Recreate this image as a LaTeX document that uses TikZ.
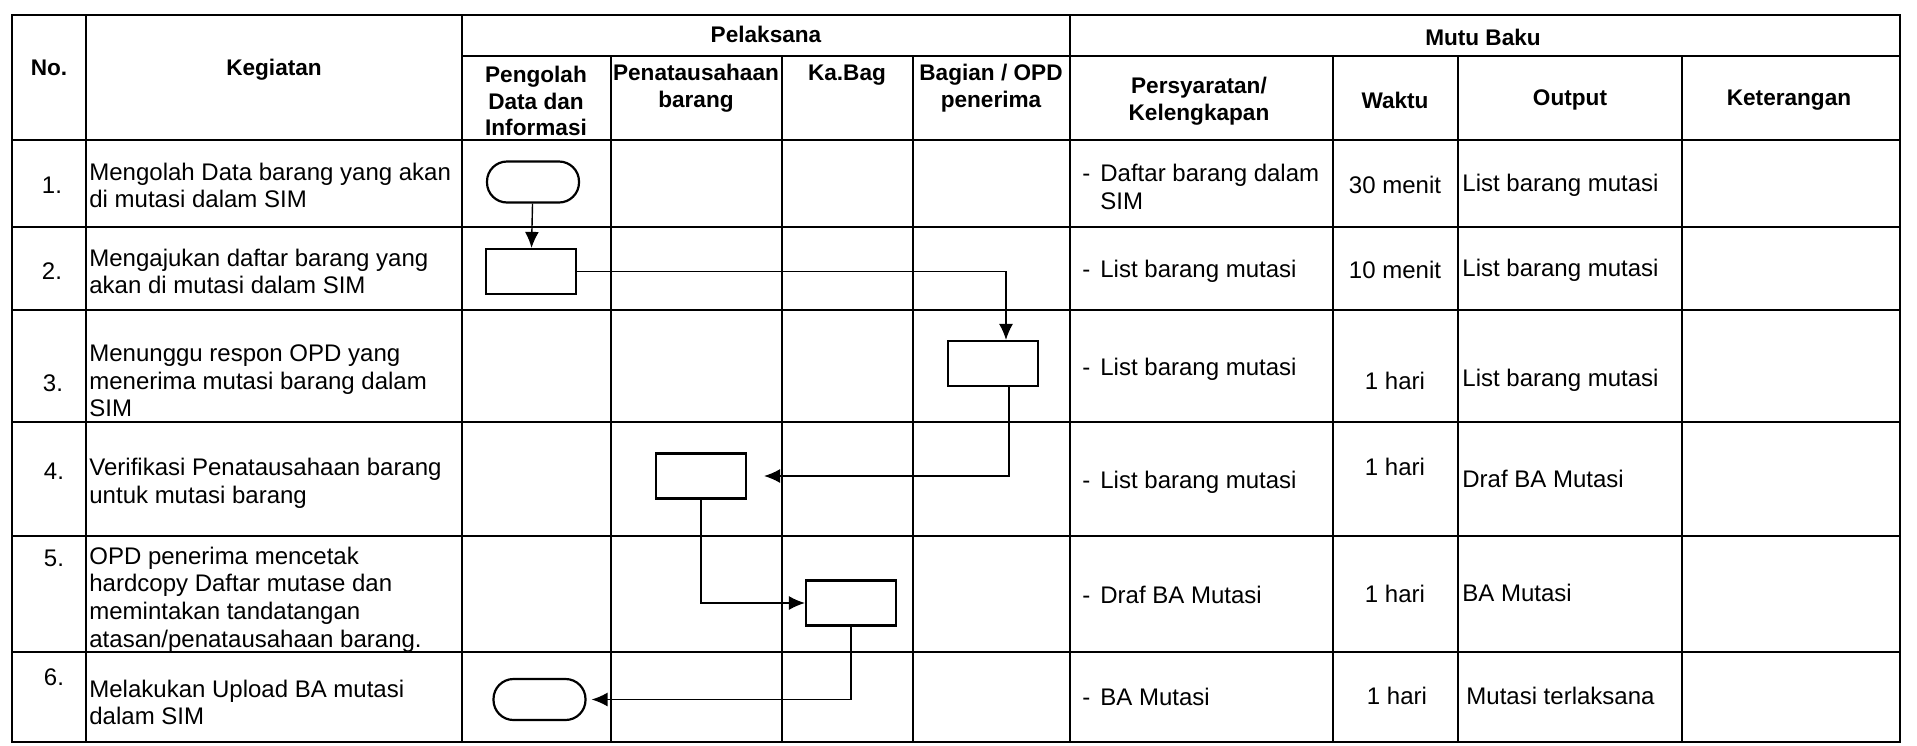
\documentclass[tikz,border=0pt]{standalone}
\usepackage{fontspec}
\setmainfont{Liberation Sans}
\usetikzlibrary{arrows.meta,positioning,calc}

\newcommand{\butir}{\llap{-\hspace{5pt}}}

\tikzset{
	tablerule/.style={line width=1.1pt, line cap=rect},
	isi/.style={font=\fontsize{12}{13.85}\selectfont, inner sep=0pt, align=left},
	judul/.style={font=\bfseries\fontsize{11.3}{13.3}\selectfont, inner sep=0pt, align=center},
	proses/.style={draw, line width=1.1pt, minimum width=45pt, minimum height=22.5pt, inner sep=0pt},
	terminal/.style={draw, line width=1.1pt, rounded corners=10pt, minimum width=46pt, minimum height=20.5pt, inner sep=0pt},
	alur/.style={line width=0.7pt, -{Latex[length=8pt,width=7pt]}}
}

\begin{document}
\begin{tikzpicture}[x=0.5pt,y=-0.5pt]
	\useasboundingbox[fill=white] (0,0) rectangle (1917,745);
	% tabel
	\draw[tablerule] (12,15) rectangle (1900,742);
	\draw[tablerule] (462,56) -- (1900,56);
	\foreach \y in {140,227,310,422,536,652}
		\draw[tablerule] (12,\y) -- (1900,\y);
	\foreach \x in {86,462,1070}
		\draw[tablerule] (\x,15) -- (\x,742);
	\foreach \x in {611,782,913,1333,1458,1682}
		\draw[tablerule] (\x,56) -- (\x,742);

	% kepala tabel
	\node[judul] (hNo) at (49,68) {No.};
	\node[judul] (hKeg) at (274,70) {Kegiatan};
	\node[judul] (hPel) at (766,34) {Pelaksana};
	\node[judul] (hMutu) at (1483,37) {Mutu Baku};
	\node[judul] (hPeng) at (536,101) {Pengolah\\Data dan\\Informasi};
	\node[judul] (hPen) at (696,88) {Penatausahaan\\barang};
	\node[judul] (hKa) at (847,75) {Ka.Bag};
	\node[judul] (hBag) at (991,88) {Bagian / OPD\\penerima};
	\node[judul] (hSyarat) at (1199,101) {Persyaratan/\\Kelengkapan};
	\node[judul] (hWaktu) at (1395,100) {Waktu};
	\node[judul] (hOut) at (1570,100) {Output};
	\node[judul] (hKet) at (1789,100) {Keterangan};

	% nomor
	\node[isi] (n1) at (52,185) {1.};
	\node[isi] (n2) at (52,271) {2.};
	\node[isi] (n3) at (53,383) {3.};
	\node[isi] (n4) at (54,471) {4.};
	\node[isi] (n5) at (54,558) {5.};
	\node[isi] (n6) at (54,677) {6.};

	% kegiatan
	\node[isi, anchor=west] (k1) at (89,185.5) {Mengolah Data barang yang akan\\di mutasi dalam SIM};
	\node[isi, anchor=west] (k2) at (89,271.5) {Mengajukan daftar barang yang\\akan di mutasi dalam SIM};
	\node[isi, anchor=west] (k3) at (89,381) {Menunggu respon OPD yang\\menerima mutasi barang dalam\\SIM};
	\node[isi, anchor=west] (k4) at (89,483) {Verifikasi Penatausahaan barang\\untuk mutasi barang};
	\node[isi, anchor=west] (k5) at (89,599.5) {OPD penerima mencetak\\hardcopy Daftar mutase dan\\memintakan tandatangan\\atasan/penatausahaan barang.};
	\node[isi, anchor=west] (k6) at (89,702.5) {Melakukan Upload BA mutasi\\dalam SIM};

	% persyaratan
	\node[isi, anchor=west] (p1) at (1100,187) {\butir Daftar barang dalam\\SIM};
	\node[isi, anchor=west] (p2) at (1100,271) {\butir List barang mutasi};
	\node[isi, anchor=west] (p3) at (1100,369) {\butir List barang mutasi};
	\node[isi, anchor=west] (p4) at (1100,482) {\butir List barang mutasi};
	\node[isi, anchor=west] (p5) at (1100,595) {\butir Draf BA Mutasi};
	\node[isi, anchor=west] (p6) at (1100,697) {\butir BA Mutasi};

	% waktu
	\node[isi] (w1) at (1395,185) {30 menit};
	\node[isi] (w2) at (1395,270) {10 menit};
	\node[isi] (w3) at (1395,381) {1 hari};
	\node[isi] (w4) at (1395,467) {1 hari};
	\node[isi] (w5) at (1395,594) {1 hari};
	\node[isi] (w6) at (1397,696) {1 hari};

	% output
	\node[isi, anchor=west] (o1) at (1462,185) {List barang mutasi};
	\node[isi, anchor=west] (o2) at (1462,270) {List barang mutasi};
	\node[isi, anchor=west] (o3) at (1462,380) {List barang mutasi};
	\node[isi, anchor=west] (o4) at (1462,479) {Draf BA Mutasi};
	\node[isi, anchor=west] (o5) at (1462,593) {BA Mutasi};
	\node[isi, anchor=west] (o6) at (1466,696) {Mutasi terlaksana};

	% bagan alir
	\node[terminal] (mulai) at (533,182) {};
	\node[proses] (ajukan) at (531,271.5) {};
	\node[proses] (tunggu) at (993,363.5) {};
	\node[proses] (verif) at (701,476) {};
	\node[proses] (cetak) at (851,603) {};
	\node[terminal] (upload) at (539.5,699.5) {};

	\draw[alur] (mulai) -- (ajukan);
	\draw[alur] (ajukan.east) -| ([xshift=6.5pt]tunggu.north);
	\draw[alur, shorten >=8.5pt] ([xshift=8pt]tunggu.south) |- (verif.east);
	\draw[alur] (verif.south) |- (cetak.west);
	\draw[alur, shorten >=2.5pt] (cetak.south) |- (upload.east);
\end{tikzpicture}
\end{document}
